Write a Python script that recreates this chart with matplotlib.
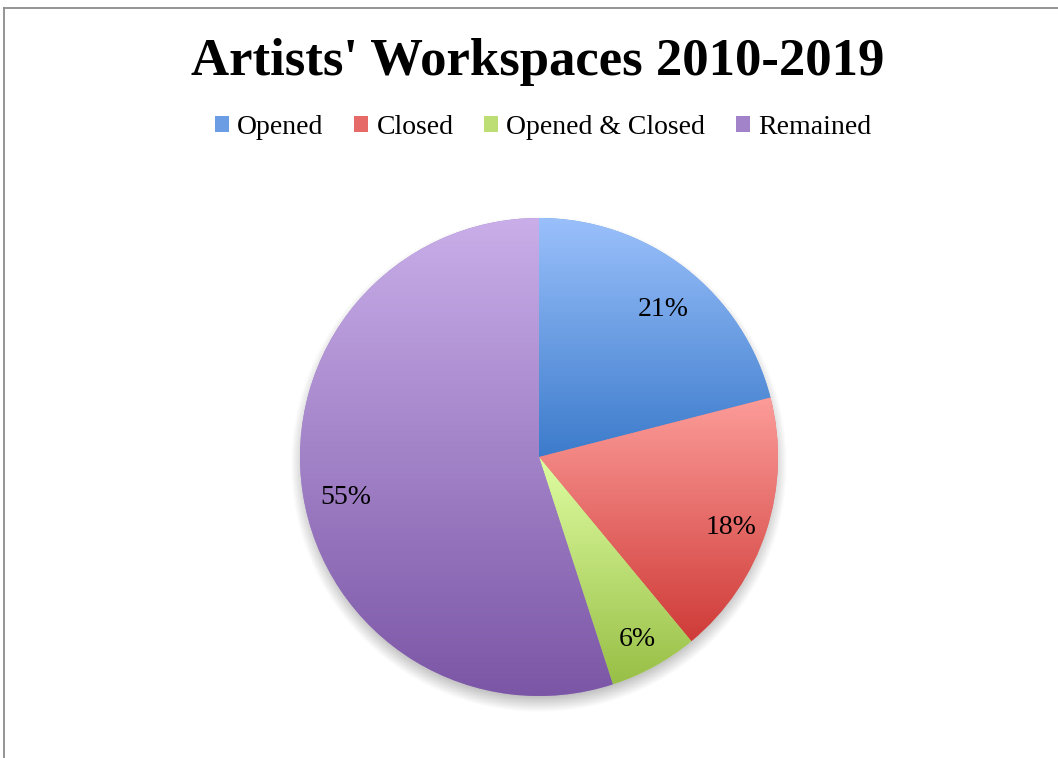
import numpy as np
import matplotlib.pyplot as plt
import matplotlib.transforms as mtransforms
from matplotlib.colors import LinearSegmentedColormap
from matplotlib.patches import Patch
from matplotlib.lines import Line2D

# Data
categories = ["Opened", "Closed", "Opened & Closed", "Remained"]
shares = [21, 18, 6, 55]
top_colors = ["#9AC0FB", "#FC9C99", "#DFFDA2", "#C9AEE9"]
bottom_colors = ["#3C7BCB", "#CF3B38", "#98BF46", "#7B56A6"]
mid_colors = ["#6A9DE4", "#E66B68", "#BCDE74", "#A282C8"]

W, H = 1058, 758
fig = plt.figure(figsize=(W / 100, H / 100), dpi=100)
plt.rcParams["font.family"] = ["Liberation Serif", "DejaVu Serif"]

# pie centre and radius in pixels
cx, cy, r = 539, 457, 239
ax = fig.add_axes([(cx - r) / W, (H - cy - r) / H, 2 * r / W, 2 * r / H])

wedges, texts, autotexts = ax.pie(
    shares,
    startangle=90,
    counterclock=False,
    radius=1,
    colors=mid_colors,
    autopct="%.0f%%",
    pctdistance=0.83,
    wedgeprops=dict(linewidth=0),
    textprops=dict(fontsize=20, color="black"),
)

# vertical gradient inside each slice
grad = np.linspace(0, 1, 256).reshape(-1, 1)
for w, top, bot in zip(wedges, top_colors, bottom_colors):
    ext = w.get_path().get_extents()
    y0, y1 = max(ext.y0, -1), min(ext.y1, 1)
    cmap = LinearSegmentedColormap.from_list("g", [bot, top])
    im = ax.imshow(grad, cmap=cmap, origin="lower", aspect="auto",
                   extent=[ext.x0, ext.x1, y0, y1], zorder=1.5)
    im.set_clip_path(w)

# soft shadow under the pie
xs = np.linspace(-1.15, 1.15, 400)
X, Y = np.meshgrid(xs, xs)
d = np.hypot(X, Y + 0.03)
alpha = np.clip((1.04 - d) / 0.08, 0, 1) * 0.45
shadow = np.zeros((400, 400, 4))
shadow[..., :3] = 0.35
shadow[..., 3] = alpha
sim = ax.imshow(shadow, origin="lower", extent=[-1.15, 1.15, -1.15, 1.15],
                zorder=0.5, aspect="auto")
sim.set_clip_on(False)

# labels sit a little lower than matplotlib puts them
shift = mtransforms.ScaledTranslation(3 / 100, -9 / 100, fig.dpi_scale_trans)
for t in autotexts:
    t.set_zorder(3)
    t.set_transform(t.get_transform() + shift)

ax.set_xlim(-1, 1)
ax.set_ylim(-1, 1)
ax.set_aspect("auto")
ax.axis("off")

fig.text(538 / W, 1 - 75 / H, "Artists' Workspaces 2010-2019",
         ha="center", va="baseline", fontsize=38, fontweight="bold")

handles = [Patch(facecolor=c, edgecolor="none") for c in mid_colors]
fig.legend(handles, categories, ncol=4, loc="center",
           bbox_to_anchor=(543 / W, 1 - 127 / H), frameon=False,
           fontsize=20, handlelength=0.5, handleheight=0.5,
           handletextpad=0.3, columnspacing=1.1)

# chart border (cut at right and bottom)
fig.add_artist(Line2D([3.5 / W, 1], [1 - 7.5 / H, 1 - 7.5 / H], color="#8c8c8c", lw=1.3))
fig.add_artist(Line2D([3.5 / W, 3.5 / W], [0, 1 - 7.5 / H], color="#8c8c8c", lw=1.3))

fig.savefig("out.png", dpi=100, facecolor="white")
